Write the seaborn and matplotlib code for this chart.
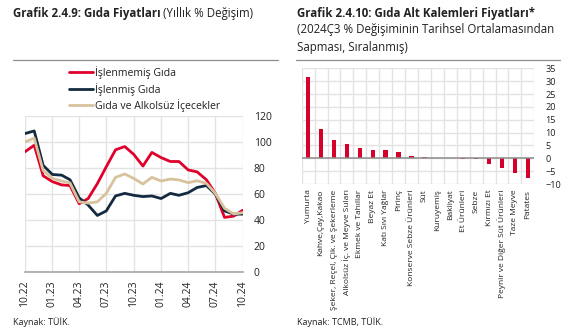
import numpy as np
import pandas as pd
import matplotlib
matplotlib.use("Agg")
import matplotlib.pyplot as plt
import matplotlib.dates as mdates
from matplotlib.ticker import MultipleLocator, FixedLocator
import seaborn as sns

# ---- Food price data (annual % change) ----
months = pd.date_range("2022-10-01", "2024-10-01", freq="MS")
unprocessed = [92.5, 97.5, 74.0, 69.5, 67.0, 66.5, 52.5, 56.5, 68.0, 81.0,
               94.0, 96.5, 90.5, 81.5, 92.0, 88.0, 85.0, 85.0, 78.5, 77.0,
               71.0, 60.5, 42.0, 43.0, 47.5]
processed = [106.5, 108.5, 82.0, 75.0, 74.5, 71.0, 57.0, 51.5, 43.5, 47.0,
             58.5, 60.5, 59.0, 58.0, 58.5, 56.5, 60.5, 59.0, 61.0, 65.0,
             66.5, 60.0, 47.0, 44.5, 44.5]
food_bev = [100.0, 103.0, 78.0, 72.0, 70.0, 68.5, 54.0, 53.0, 54.0, 60.5,
            72.8, 75.4, 72.0, 67.7, 72.8, 70.0, 71.5, 70.8, 68.7, 70.2,
            68.2, 60.5, 49.0, 44.6, 45.6]
series_names = ["İşlenmemiş Gıda", "İşlenmiş Gıda", "Gıda ve Alkolsüz İçecekler"]
series_colors = ["#E0002B", "#132A40", "#D8C29D"]

# ---- Food sub-items: deviation from historical average ----
items = ["Yumurta", "Kahve,Çay,Kakao", "Şeker, Reçel, Çik. ve Şekerleme",
         "Alkolsüz İç. ve Meyve Suları", "Ekmek ve Tahıllar", "Beyaz Et",
         "Katı Sıvı Yağlar", "Pirinç", "Konserve Sebze Ürünleri", "Süt",
         "Kuruyemiş", "Bakliyat", "Et Ürünleri", "Sebze", "Kırmızı Et",
         "Peynir ve Diğer Süt Ürünleri", "Taze Meyve", "Patates"]
deviation = [31.7, 11.4, 7.2, 5.4, 3.9, 3.4, 3.1, 2.6, 1.0, 0.4,
             0.05, -0.05, -0.4, -0.4, -2.2, -3.6, -5.8, -7.6]

sns.set_theme(style="white")
plt.rcParams["font.family"] = ["Open Sans", "DejaVu Sans"]

W, H = 573, 329
fig = plt.figure(figsize=(W / 100, H / 100), dpi=100)


def px_axes(x0, y0, x1, y1):
    return fig.add_axes([x0 / W, 1 - y1 / H, (x1 - x0) / W, (y1 - y0) / H])


grid_c = "#E3E3E3"
text_c = "#222222"

# ---------------- left panel: line chart ----------------
df = pd.DataFrame({
    "date": list(months) * 3,
    "value": unprocessed + processed + food_bev,
    "series": sum([[n] * len(months) for n in series_names], []),
})
ax1 = px_axes(25, 116, 242.7, 272)
sns.lineplot(data=df, x="date", y="value", hue="series", hue_order=series_names,
             palette=series_colors, linewidth=2.0, ax=ax1, legend=True)
ax1.set_xlim(months[0], months[-1])
ax1.set_ylim(0, 120)
ax1.yaxis.set_major_locator(MultipleLocator(20))
ax1.xaxis.set_major_locator(mdates.MonthLocator(bymonth=[1, 4, 7, 10]))
ax1.xaxis.set_major_formatter(mdates.DateFormatter("%m.%y"))
ax1.yaxis.tick_right()
ax1.grid(True, color=grid_c, linewidth=1.0)
ax1.set_axisbelow(True)
for s in ["top", "left", "right"]:
    ax1.spines[s].set_visible(False)
ax1.spines["bottom"].set_color("#A6A6A6")
ax1.spines["bottom"].set_linewidth(1.2)
ax1.tick_params(axis="x", labelrotation=90, labelsize=7.5, length=0, pad=6,
                colors=text_c)
ax1.tick_params(axis="y", labelsize=7.5, length=0, pad=8, colors=text_c)
for lab in ax1.get_yticklabels():
    lab.set_horizontalalignment("left")
ax1.set_xlabel("")
ax1.set_ylabel("")
leg = ax1.legend(loc="lower left", bbox_to_anchor=(0.2, 1.025), frameon=False,
                 fontsize=7.6, handlelength=2.3, handletextpad=0.2,
                 labelspacing=0.35, borderaxespad=0, borderpad=0)
for t in leg.get_texts():
    t.set_color(text_c)

# ---------------- right panel: bar chart ----------------
bdf = pd.DataFrame({"item": items, "dev": deviation})
ax2 = px_axes(301.7, 68.3, 534.3, 184)
sns.barplot(data=bdf, x="item", y="dev", color="#D7002B", width=0.34,
            saturation=1, linewidth=0, ax=ax2)
ax2.set_xlim(-0.5, len(items) - 0.5)
ax2.set_ylim(-10, 35)
ax2.yaxis.set_major_locator(MultipleLocator(5))
ax2.xaxis.set_minor_locator(FixedLocator(np.arange(-0.5, len(items), 1.0)))
ax2.yaxis.tick_right()
ax2.grid(True, axis="y", color=grid_c, linewidth=1.0)
ax2.grid(True, axis="x", which="minor", color=grid_c, linewidth=1.0)
ax2.set_axisbelow(True)
for s in ["top", "left", "right", "bottom"]:
    ax2.spines[s].set_visible(False)
ax2.axhline(0, color="#8C8C8C", linewidth=1.1, zorder=1)
ax2.tick_params(axis="x", which="both", labelrotation=90, labelsize=6.0,
                length=0, pad=4, colors=text_c)
ax2.tick_params(axis="y", labelsize=6.6, length=0, pad=8, colors=text_c)
for lab in ax2.get_yticklabels():
    lab.set_horizontalalignment("left")
ax2.set_xlabel("")
ax2.set_ylabel("")

# ---------------- titles, rules and sources ----------------
fig.canvas.draw()
renderer = fig.canvas.get_renderer()


def two_part_title(x, y, bold, rest, size):
    t = fig.text(x / W, 1 - y / H, bold, fontsize=size, fontweight="bold",
                 color=text_c, va="center", ha="left")
    bb = t.get_window_extent(renderer=renderer)
    fig.text((bb.x1 + 2) / W, 1 - y / H, rest, fontsize=size, color=text_c,
             va="center", ha="left")


two_part_title(13, 13, "Grafik 2.4.9: Gıda Fiyatları", "(Yıllık % Değişim)", 8.3)
fig.text(297 / W, 1 - 13 / H, "Grafik 2.4.10: Gıda Alt Kalemleri Fiyatları*",
         fontsize=8.3, fontweight="bold", color=text_c, va="center")
fig.text(297 / W, 1 - 30 / H, "(2024Ç3 % Değişiminin Tarihsel Ortalamasından",
         fontsize=8.3, color=text_c, va="center")
fig.text(297 / W, 1 - 47 / H, "Sapması, Sıralanmış)", fontsize=8.3,
         color=text_c, va="center")

fig.add_artist(plt.Line2D([13 / W, 278 / W], [1 - 60 / H, 1 - 60 / H],
                          color="#8F8F8F", linewidth=0.9))
fig.add_artist(plt.Line2D([296 / W, 560 / W], [1 - 60 / H, 1 - 60 / H],
                          color="#8F8F8F", linewidth=0.9))

fig.text(13 / W, 1 - 322 / H, "Kaynak: TÜİK.", fontsize=6.5, color=text_c,
         va="center")
fig.text(297 / W, 1 - 322 / H, "Kaynak: TCMB, TÜİK.", fontsize=6.5,
         color=text_c, va="center")

fig.savefig("out.png", dpi=100)
